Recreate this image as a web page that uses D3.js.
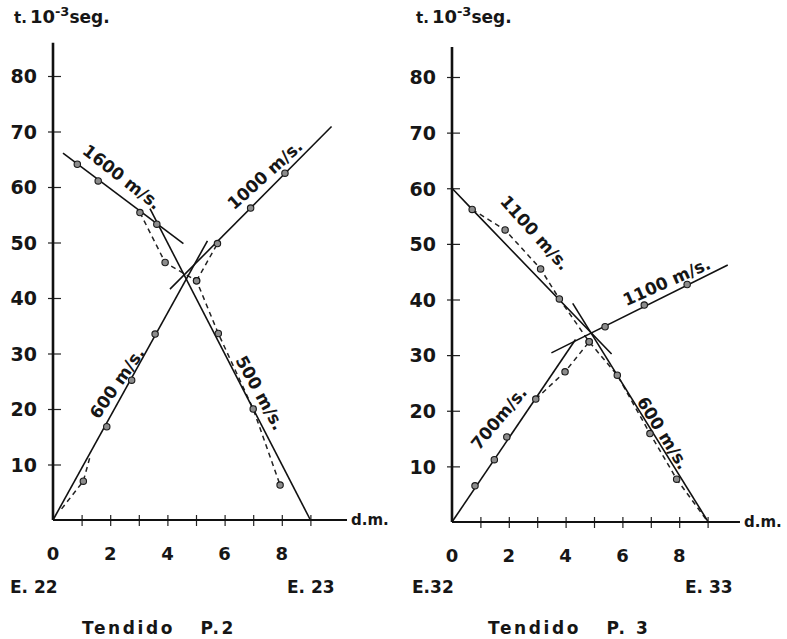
<!DOCTYPE html>
<html>
<head>
<meta charset="utf-8">
<script src="https://cdn.jsdelivr.net/npm/d3@7"></script>
<style>
  body { margin: 0; background: #fff; }
  svg { display: block; }
  text { font-family: "DejaVu Sans", sans-serif; fill: #161616; }
</style>
</head>
<body>
<svg id="chart" width="787" height="639"></svg>
<script>
// ---- axis ticks (distance in d.m., time in 10^-3 s) ----
const xTickLabels = [0, 2, 4, 6, 8];
const xTickMarks = [1, 2, 3, 4, 5, 6, 7, 8, 9];
const yTickValues = [10, 20, 30, 40, 50, 60, 70, 80];

// ---- Tendido P.2 : observed arrivals [d, t] ----
const p2Forward = [[1.06, 7.0], [1.88, 16.8], [2.75, 25.2], [3.57, 33.5], [5.02, 43.1], [5.75, 49.8], [6.91, 56.2], [8.11, 62.5]];
const p2Reverse = [[0.85, 64.1], [1.58, 61.1], [3.04, 55.4], [3.63, 53.3], [3.92, 46.4], [5.02, 43.1], [5.78, 33.6], [7.0, 20.0], [7.94, 6.3]];
// fitted velocity branches (solid)
const p2Line600 = [[0, 0], [5.4, 50.3]];
const p2Line1000 = [[4.09, 41.6], [9.74, 70.9]];
const p2Line1600 = [[0.35, 66.1], [4.56, 49.8]];
const p2Line500 = [[3.39, 56.1], [9.0, 0]];
// joined arrivals (dashed)
const p2DashA = [[0.3, 2.0], [1.06, 7.0], [1.3, 11.5]];
const p2DashB = [[3.04, 55.4], [3.92, 46.4], [5.02, 43.1], [5.78, 33.6], [7.0, 20.0], [7.94, 6.3]];
const p2DashC = [[5.02, 43.1], [5.75, 49.8]];

// ---- Tendido P.3 : observed arrivals [d, t] ----
const p3Forward = [[0.81, 6.5], [1.49, 11.2], [1.93, 15.3], [2.95, 22.1], [3.98, 27.0], [4.83, 32.4], [5.39, 35.1], [6.77, 39.0], [8.28, 42.7]];
const p3Reverse = [[0.71, 56.2], [1.87, 52.5], [3.12, 45.5], [3.78, 40.1], [4.83, 32.4], [5.82, 26.4], [6.97, 15.9], [7.91, 7.7]];
const p3Line700 = [[0, 0], [4.35, 32.8]];
const p3Line1100a = [[3.5, 30.4], [9.71, 46.2]];
const p3Line1100b = [[0, 60], [0.71, 56.2], [5.62, 30.2]];
const p3Line600 = [[4.25, 39.3], [9.0, 0.2]];
const p3DashA = [[0.71, 56.2], [1.87, 52.5], [3.12, 45.5], [3.78, 40.1], [4.83, 32.4], [5.82, 26.4], [6.97, 15.9], [7.91, 7.7], [8.97, 0.3]];
const p3DashB = [[2.95, 22.1], [3.98, 27.0], [4.83, 32.4]];

// ---- velocity labels ----
const p2Labels = ["1600 m/s.", "1000 m/s.", "600 m/s.", "500 m/s."];
const p3Labels = ["1100 m/s.", "1100 m/s.", "700m/s.", "600 m/s."];

const panels = [
  {
    left: 53, zeroY: 520, pxPerDm: 28.6, pxPerMs: 5.55, yTop: 86, xEnd: 10.28,
    stations: ["E. 22", "E. 23"], stationX: [10, 287], title: "Tendido   P.2", titleX: 82,
    headX: 14,
    solid: [p2Line600, p2Line1000, p2Line1600, p2Line500],
    dashed: [p2DashA, p2DashB, p2DashC],
    points: [p2Forward, p2Reverse],
    labels: p2Labels,
    labelAt: [[2.41, 61.8, 38], [7.41, 62.2, -42], [2.24, 24.7, -55], [7.24, 22.9, 61]]
  },
  {
    left: 452, zeroY: 522, pxPerDm: 28.4, pxPerMs: 5.5625, yTop: 85.4, xEnd: 10.14,
    stations: ["E.32", "E. 33"], stationX: [412, 685], title: "Tendido   P. 3", titleX: 488,
    headX: 416,
    solid: [p3Line700, p3Line1100a, p3Line1100b, p3Line600],
    dashed: [p3DashA, p3DashB],
    points: [p3Forward, p3Reverse],
    labels: p3Labels,
    labelAt: [[2.92, 52.0, 48], [7.56, 43.2, -24], [1.65, 18.7, -50], [7.43, 16.0, 58]]
  }
];

const svg = d3.select("#chart");

panels.forEach(p => {
  const x = d3.scaleLinear().domain([0, 10]).range([p.left, p.left + 10 * p.pxPerDm]);
  const y = d3.scaleLinear().domain([0, 80]).range([p.zeroY, p.zeroY - 80 * p.pxPerMs]);
  const g = svg.append("g");

  // y axis ticks (crossing marks)
  const yAxis = g.append("g")
    .attr("transform", `translate(${x(0)},0)`)
    .call(d3.axisLeft(y).tickValues(yTickValues).tickSize(0).tickFormat(""));
  yAxis.select(".domain").remove();
  yAxis.selectAll(".tick line").attr("x1", -5).attr("x2", 8).attr("stroke", "#222").attr("stroke-width", 1.2);
  yAxis.selectAll(".tick").append("text")
    .attr("x", -16).attr("dy", "0.36em").attr("text-anchor", "end")
    .style("font-size", "19px").style("font-weight", "bold")
    .text(d => d);

  // x axis ticks
  const xAxis = g.append("g")
    .attr("transform", `translate(0,${y(0)})`)
    .call(d3.axisBottom(x).tickValues(xTickMarks).tickSize(0).tickFormat(""));
  xAxis.select(".domain").remove();
  xAxis.selectAll(".tick line").attr("y1", -5).attr("y2", 6).attr("stroke", "#222").attr("stroke-width", 1.2);

  g.selectAll(".xlab").data(xTickLabels).join("text")
    .attr("x", d => x(d)).attr("y", y(0) + 40)
    .attr("text-anchor", "middle")
    .style("font-size", "18px").style("font-weight", "bold")
    .text(d => d);

  // axis lines
  g.append("line")
    .attr("x1", x(0)).attr("x2", x(0)).attr("y1", y(0)).attr("y2", y(p.yTop))
    .attr("stroke", "#111").attr("stroke-width", 2.6);
  g.append("line")
    .attr("x1", x(0)).attr("x2", x(p.xEnd)).attr("y1", y(0)).attr("y2", y(0))
    .attr("stroke", "#111").attr("stroke-width", 2);

  g.append("text")
    .attr("x", x(p.xEnd) + 4).attr("y", y(0) + 5)
    .style("font-size", "15px").style("font-weight", "bold")
    .text("d.m.");

  // axis heading  t.10^-3 seg.
  const head = g.append("text").attr("x", p.headX).attr("y", 23)
    .style("font-weight", "bold");
  head.append("tspan").style("font-size", "15px").text("t.");
  head.append("tspan").style("font-size", "18px").attr("dx", 3).text("10");
  head.append("tspan").style("font-size", "13px").attr("dy", -7).text("-3");
  head.append("tspan").style("font-size", "17px").attr("dy", 7).text("seg.");

  const line = d3.line().x(d => x(d[0])).y(d => y(d[1]));

  g.selectAll(".dash").data(p.dashed).join("path")
    .attr("d", line).attr("fill", "none")
    .attr("stroke", "#222").attr("stroke-width", 1.5)
    .attr("stroke-dasharray", "5,4");

  g.selectAll(".solid").data(p.solid).join("path")
    .attr("d", line).attr("fill", "none")
    .attr("stroke", "#111").attr("stroke-width", 1.6);

  p.points.forEach(set => {
    g.selectAll(null).data(set).join("circle")
      .attr("cx", d => x(d[0])).attr("cy", d => y(d[1])).attr("r", 3.2)
      .attr("fill", "#8c8c8c").attr("stroke", "#1a1a1a").attr("stroke-width", 1.1);
  });

  // velocity labels along the branches
  p.labels.forEach((txt, i) => {
    const [d, t, a] = p.labelAt[i];
    g.append("text")
      .attr("transform", `translate(${x(d)},${y(t)}) rotate(${a})`)
      .attr("text-anchor", "middle").attr("dy", "0.35em")
      .style("font-size", "17px").style("font-weight", "bold")
      .text(txt);
  });

  // station names and spread title
  g.selectAll(".st").data(p.stations).join("text")
    .attr("x", (d, i) => p.stationX[i]).attr("y", 593)
    .style("font-size", "17px").style("font-weight", "bold")
    .text(d => d);
  g.append("text")
    .attr("x", p.titleX).attr("y", 634)
    .style("font-size", "17px").style("font-weight", "bold")
    .style("letter-spacing", "2.6px").style("white-space", "pre")
    .attr("xml:space", "preserve")
    .text(p.title);
});
</script>
</body>
</html>
